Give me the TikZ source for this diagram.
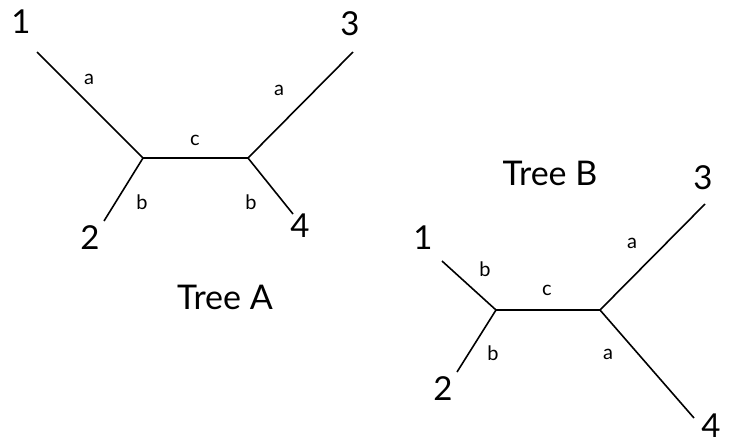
\documentclass[tikz,border=0pt]{standalone}
\usepackage{fontspec}
\setmainfont{Lato}
\begin{document}
\begin{tikzpicture}[x=1pt,y=-1pt,
  edge/.style={line width=1.6pt},
  leaf/.style={font=\fontsize{33}{36}\selectfont, inner sep=0pt},
  lab/.style={font=\fontsize{20}{22}\selectfont, inner sep=0pt},
  title/.style={font=\fontsize{34}{36}\selectfont, inner sep=0pt}]
\useasboundingbox (0,0) rectangle (732,445);
% Tree A
\coordinate (a1) at (37,52);
\coordinate (aL) at (143,158);
\coordinate (aR) at (248,158);
\coordinate (a3) at (353,52);
\coordinate (a2) at (104,221);
\coordinate (a4) at (293,214);
\draw[edge] (a1) -- (aL) -- (aR) -- (a3);
\draw[edge] (aL) -- (a2);
\draw[edge] (aR) -- (a4);
\node[leaf] (n1a) at (21,22) {1};
\node[leaf] (n3a) at (350,24) {3};
\node[leaf] (n2a) at (90,238) {2};
\node[leaf] (n4a) at (300,226) {4};
\node[lab] (la1) at (89,79) {a};
\node[lab] (la3) at (279,90) {a};
\node[lab] (lac) at (195,140) {c};
\node[lab] (lab2) at (142,202) {b};
\node[lab] (lab4) at (251,202) {b};
\node[title] (ta) at (225,297) {Tree A};
% Tree B
\coordinate (b1) at (442,261);
\coordinate (bL) at (496,310);
\coordinate (bR) at (600,310);
\coordinate (b3) at (705,204);
\coordinate (b2) at (457,372);
\coordinate (b4) at (694,418);
\draw[edge] (b1) -- (bL) -- (bR) -- (b3);
\draw[edge] (bL) -- (b2);
\draw[edge] (bR) -- (b4);
\node[leaf] (n1b) at (423,238) {1};
\node[leaf] (n3b) at (703,178) {3};
\node[leaf] (n2b) at (443,389) {2};
\node[leaf, anchor=south] (n4b) at (711,438) {4};
\node[lab] (lb1) at (485,269) {b};
\node[lab] (lb3) at (632,243) {a};
\node[lab] (lbc) at (547,290) {c};
\node[lab] (lb2) at (493,353) {b};
\node[lab] (lb4) at (608,354) {a};
\node[title] (tb) at (550,173) {Tree B};
\end{tikzpicture}
\end{document}
